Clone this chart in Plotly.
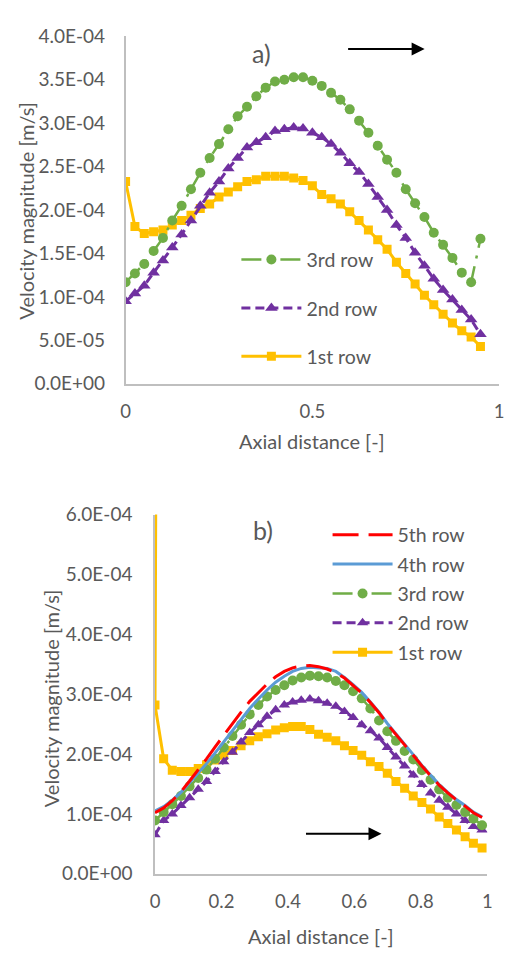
import plotly.graph_objects as go

# ---------------- data ----------------
x_top = [0, 0.025, 0.05, 0.075, 0.1, 0.125, 0.15, 0.175, 0.2, 0.225,
         0.25, 0.275, 0.3, 0.325, 0.35, 0.375, 0.4, 0.425, 0.45, 0.475,
         0.5, 0.525, 0.55, 0.575, 0.6, 0.625, 0.65, 0.675, 0.7, 0.725,
         0.75, 0.775, 0.8, 0.825, 0.85, 0.875, 0.9, 0.925, 0.95]
row1_top = [2.33, 1.81, 1.73, 1.75, 1.77, 1.83, 1.88, 1.94, 2.02, 2.07,
            2.15, 2.21, 2.27, 2.33, 2.35, 2.39, 2.39, 2.39, 2.37, 2.34,
            2.28, 2.18, 2.13, 2.07, 1.98, 1.88, 1.77, 1.66, 1.55, 1.40,
            1.27, 1.15, 1.02, 0.91, 0.80, 0.70, 0.61, 0.54, 0.43]
row2_top = [0.95, 1.04, 1.13, 1.28, 1.42, 1.57, 1.72, 1.88, 2.05, 2.20,
            2.33, 2.48, 2.60, 2.72, 2.78, 2.84, 2.91, 2.93, 2.95, 2.94,
            2.89, 2.84, 2.76, 2.66, 2.54, 2.44, 2.30, 2.15, 2.00, 1.83,
            1.68, 1.51, 1.36, 1.21, 1.08, 0.97, 0.85, 0.74, 0.57]
row3_top = [1.17, 1.27, 1.38, 1.53, 1.68, 1.88, 2.05, 2.24, 2.43, 2.60,
            2.76, 2.93, 3.08, 3.19, 3.31, 3.41, 3.48, 3.50, 3.53, 3.53,
            3.49, 3.43, 3.35, 3.27, 3.16, 3.03, 2.89, 2.74, 2.58, 2.43,
            2.24, 2.08, 1.92, 1.74, 1.60, 1.45, 1.28, 1.17, 1.67]

x_bot = [0, 0.026, 0.052, 0.078, 0.104, 0.13, 0.155, 0.181, 0.207, 0.233,
         0.259, 0.285, 0.311, 0.337, 0.363, 0.389, 0.414, 0.44, 0.466, 0.492,
         0.518, 0.544, 0.57, 0.596, 0.622, 0.648, 0.674, 0.699, 0.725, 0.751,
         0.777, 0.803, 0.829, 0.855, 0.881, 0.907, 0.933, 0.958, 0.984]
# 1st row of panel b starts with an inlet value above the axis range
x_bot_row1 = [0.004] + x_bot
row1_bot = [9.0, 2.82, 1.92, 1.73, 1.71, 1.71, 1.76, 1.82, 1.90, 1.98, 2.06,
            2.14, 2.22, 2.29, 2.34, 2.40, 2.44, 2.46, 2.46, 2.41, 2.33,
            2.28, 2.22, 2.14, 2.06, 1.98, 1.87, 1.79, 1.68, 1.54, 1.43,
            1.30, 1.19, 1.08, 0.95, 0.84, 0.73, 0.62, 0.51, 0.43]
row2_bot = [0.65, 0.89, 1.00, 1.14, 1.27, 1.41, 1.54, 1.71, 1.87, 2.03,
            2.20, 2.36, 2.49, 2.63, 2.74, 2.82, 2.87, 2.90, 2.92, 2.89,
            2.85, 2.80, 2.71, 2.61, 2.49, 2.39, 2.27, 2.11, 1.95, 1.80,
            1.65, 1.49, 1.35, 1.23, 1.11, 1.00, 0.89, 0.79, 0.73]
row3_bot = [0.89, 1.03, 1.16, 1.30, 1.46, 1.60, 1.74, 1.92, 2.11, 2.30,
            2.49, 2.66, 2.82, 2.96, 3.07, 3.15, 3.23, 3.28, 3.31, 3.30,
            3.28, 3.22, 3.15, 3.05, 2.93, 2.76, 2.56, 2.38, 2.22, 2.05,
            1.91, 1.73, 1.57, 1.41, 1.27, 1.15, 1.03, 0.92, 0.81]
row4_bot = [1.05, 1.12, 1.23, 1.36, 1.52, 1.68, 1.84, 2.02, 2.21, 2.40,
            2.58, 2.76, 2.92, 3.07, 3.20, 3.30, 3.38, 3.43, 3.45, 3.44,
            3.43, 3.38, 3.28, 3.16, 3.03, 2.87, 2.70, 2.51, 2.34, 2.17,
            1.99, 1.81, 1.65, 1.49, 1.36, 1.24, 1.14, 1.03, 0.95]
row5_bot = [1.02, 1.10, 1.22, 1.37, 1.55, 1.73, 1.92, 2.12, 2.32, 2.52,
            2.70, 2.88, 3.03, 3.17, 3.29, 3.38, 3.44, 3.47, 3.48, 3.46,
            3.42, 3.36, 3.27, 3.15, 3.02, 2.86, 2.69, 2.50, 2.33, 2.16,
            1.98, 1.80, 1.64, 1.48, 1.35, 1.23, 1.13, 1.02, 0.94]
SCALE = 1e-4

ytick_top_vals = [0, 0.5e-4, 1.0e-4, 1.5e-4, 2.0e-4, 2.5e-4, 3.0e-4, 3.5e-4, 4.0e-4]
ytick_top_text = ["0.0E+00", "5.0E-05", "1.0E-04", "1.5E-04", "2.0E-04",
                  "2.5E-04", "3.0E-04", "3.5E-04", "4.0E-04"]
xtick_top_vals = [0, 0.5, 1]
xtick_top_text = ["0", "0.5", "1"]
ytick_bot_vals = [0, 1e-4, 2e-4, 3e-4, 4e-4, 5e-4, 6e-4]
ytick_bot_text = ["0.0E+00", "1.0E-04", "2.0E-04", "3.0E-04", "4.0E-04", "5.0E-04", "6.0E-04"]
xtick_bot_vals = [0, 0.2, 0.4, 0.6, 0.8, 1]
xtick_bot_text = ["0", "0.2", "0.4", "0.6", "0.8", "1"]

# ---------------- style ----------------
W, H = 511, 956
FONT = "Lato"
GREY = "#595959"
YEL, PUR, GRN, BLU, RED = "#FFC000", "#7030A0", "#70AD47", "#5B9BD5", "#FF0000"
GREEN_DASH = "20px,8px,3px,8px"
PURPLE_DASH = "9px,5px"
RED_DASH = "26px,10px"


def px_x(p):
    return p / W


def px_y(p):
    return 1 - p / H


def sc(v):
    return [a * SCALE for a in v]


fig = go.Figure()

# panel a
fig.add_trace(go.Scatter(x=x_top, y=sc(row1_top), name="1st row", mode="lines+markers",
                         line=dict(color=YEL, width=3),
                         marker=dict(symbol="square", size=9, color=YEL),
                         xaxis="x", yaxis="y", legend="legend", legendgroup="a1", legendrank=3))
fig.add_trace(go.Scatter(x=x_top, y=sc(row2_top), name="2nd row", mode="lines+markers",
                         line=dict(color=PUR, width=3, dash=PURPLE_DASH),
                         marker=dict(symbol="triangle-up", size=11, color=PUR),
                         xaxis="x", yaxis="y", legend="legend", legendgroup="a2", legendrank=2))
fig.add_trace(go.Scatter(x=x_top, y=sc(row3_top), name="3rd row", mode="lines+markers",
                         line=dict(color=GRN, width=2.5, dash=GREEN_DASH),
                         marker=dict(symbol="circle", size=10, color=GRN),
                         xaxis="x", yaxis="y", legend="legend", legendgroup="a3", legendrank=1))

# panel b
fig.add_trace(go.Scatter(x=x_bot_row1, y=sc(row1_bot), name="1st row", mode="lines+markers",
                         line=dict(color=YEL, width=3),
                         marker=dict(symbol="square", size=9, color=YEL),
                         xaxis="x2", yaxis="y2", legend="legend2", legendgroup="b1", legendrank=5))
fig.add_trace(go.Scatter(x=x_bot, y=sc(row2_bot), name="2nd row", mode="lines+markers",
                         line=dict(color=PUR, width=3, dash=PURPLE_DASH),
                         marker=dict(symbol="triangle-up", size=10, color=PUR),
                         xaxis="x2", yaxis="y2", legend="legend2", legendgroup="b2", legendrank=4))
fig.add_trace(go.Scatter(x=x_bot, y=sc(row3_bot), name="3rd row", mode="lines+markers",
                         line=dict(color=GRN, width=2.5, dash=GREEN_DASH),
                         marker=dict(symbol="circle", size=10, color=GRN),
                         xaxis="x2", yaxis="y2", legend="legend2", legendgroup="b3", legendrank=3))
fig.add_trace(go.Scatter(x=x_bot, y=sc(row4_bot), name="4th row", mode="lines",
                         line=dict(color=BLU, width=3),
                         xaxis="x2", yaxis="y2", legend="legend2", legendgroup="b4", legendrank=2))
fig.add_trace(go.Scatter(x=x_bot, y=sc(row5_bot), name="5th row", mode="lines",
                         line=dict(color=RED, width=3, dash=RED_DASH),
                         xaxis="x2", yaxis="y2", legend="legend2", legendgroup="b5", legendrank=1))

YT = dict(family=FONT, size=19, color=GREY)
XT = dict(family=FONT, size=18.5, color=GREY)
axis_common = dict(showgrid=False, zeroline=False, showline=True, linecolor="#BFBFBF",
                   linewidth=1.5, fixedrange=True)

fig.update_layout(
    width=W, height=H, margin=dict(l=0, r=0, t=0, b=0),
    paper_bgcolor="white", plot_bgcolor="white",
    font=dict(family=FONT, color=GREY),
    xaxis=dict(axis_common, domain=[px_x(123), px_x(504)], range=[0, 1], anchor="y",
               tickvals=xtick_top_vals, ticktext=xtick_top_text, ticks="",
               ticklabelstandoff=10, tickfont=XT),
    yaxis=dict(axis_common, domain=[px_y(381), px_y(25)], range=[0, 4e-4], anchor="x",
               tickvals=ytick_top_vals, ticktext=ytick_top_text,
               ticks="outside", ticklen=15, tickcolor="rgba(0,0,0,0)", tickfont=YT),
    xaxis2=dict(axis_common, domain=[px_x(153), px_x(492)], range=[0, 1], anchor="y2",
                tickvals=xtick_bot_vals, ticktext=xtick_bot_text, ticks="",
                ticklabelstandoff=10, tickfont=XT),
    yaxis2=dict(axis_common, domain=[px_y(883), px_y(515)], range=[0, 6e-4], anchor="x2",
                tickvals=ytick_bot_vals, ticktext=ytick_bot_text,
                ticks="outside", ticklen=17, tickcolor="rgba(0,0,0,0)", tickfont=YT),
    legend=dict(x=px_x(236), y=px_y(234), xanchor="left", yanchor="top",
                traceorder="grouped", tracegroupgap=20, itemwidth=60,
                bgcolor="rgba(0,0,0,0)", font=dict(family=FONT, size=19.5, color=GREY)),
    legend2=dict(x=px_x(329), y=px_y(516), xanchor="left", yanchor="top",
                 traceorder="grouped", tracegroupgap=1, itemwidth=60,
                 bgcolor="rgba(0,0,0,0)", font=dict(family=FONT, size=19.5, color=GREY)),
    showlegend=True,
)

ann = []
title_font = dict(family=FONT, size=20, color=GREY)
ann.append(dict(text="Velocity magnitude [m/s]", x=px_x(22), y=px_y(204), xref="paper", yref="paper",
                textangle=-90, showarrow=False, font=title_font, xanchor="center", yanchor="middle"))
ann.append(dict(text="Axial distance [-]", x=px_x(313), y=px_y(440), xref="paper", yref="paper",
                showarrow=False, font=title_font, xanchor="center", yanchor="middle"))
ann.append(dict(text="Velocity magnitude [m/s]", x=px_x(47), y=px_y(703), xref="paper", yref="paper",
                textangle=-90, showarrow=False, font=title_font, xanchor="center", yanchor="middle"))
ann.append(dict(text="Axial distance [-]", x=px_x(322), y=px_y(947), xref="paper", yref="paper",
                showarrow=False, font=title_font, xanchor="center", yanchor="middle"))
ann.append(dict(text="a)", x=px_x(262), y=px_y(42), xref="paper", yref="paper",
                showarrow=False, font=dict(family=FONT, size=25, color=GREY),
                xanchor="center", yanchor="middle"))
ann.append(dict(text="b)", x=px_x(263), y=px_y(531), xref="paper", yref="paper",
                showarrow=False, font=dict(family=FONT, size=25, color=GREY),
                xanchor="center", yanchor="middle"))
# flow-direction arrows
ann.append(dict(text="", x=px_x(428), y=px_y(38), xref="paper", yref="paper",
                ax=-78, ay=0, showarrow=True, arrowhead=2, arrowsize=1.3, arrowwidth=2,
                arrowcolor="black"))
ann.append(dict(text="", x=px_x(384), y=px_y(842), xref="paper", yref="paper",
                ax=-77, ay=0, showarrow=True, arrowhead=2, arrowsize=1.3, arrowwidth=2,
                arrowcolor="black"))
fig.update_layout(annotations=ann)

fig.write_html("out.html")
